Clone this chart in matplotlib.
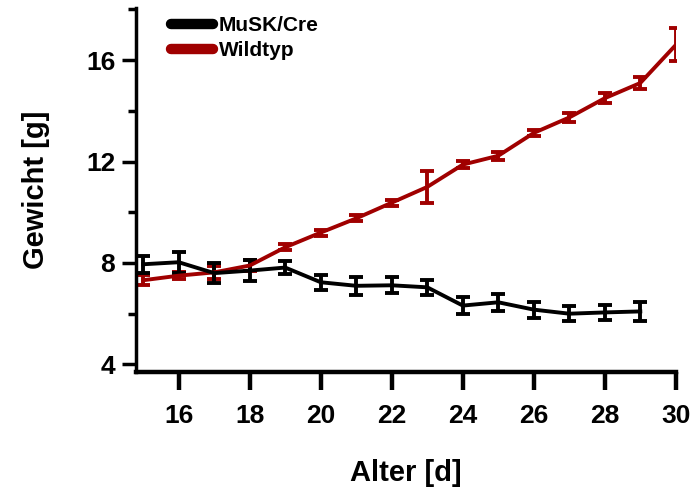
import matplotlib
matplotlib.use("Agg")
import matplotlib.pyplot as plt
from matplotlib.lines import Line2D
from matplotlib.ticker import MultipleLocator

plt.rcParams['font.family'] = ['Liberation Sans', 'DejaVu Sans']
plt.rcParams['font.weight'] = 'bold'

# age in days
age_cre = [15, 16, 17, 18, 19, 20, 21, 22, 23, 24, 25, 26, 27, 28, 29]
weight_cre = [7.95, 8.03, 7.6, 7.7, 7.82, 7.24, 7.1, 7.12, 7.04, 6.32, 6.45, 6.16, 6.0, 6.05, 6.09]
err_cre = [0.33, 0.42, 0.4, 0.42, 0.27, 0.3, 0.36, 0.32, 0.3, 0.33, 0.34, 0.32, 0.3, 0.31, 0.38]

age_wt = [15, 16, 17, 18, 19, 20, 21, 22, 23, 24, 25, 26, 27, 28, 29, 30]
weight_wt = [7.32, 7.5, 7.63, 7.9, 8.62, 9.2, 9.76, 10.38, 11.0, 11.88, 12.23, 13.13, 13.74, 14.5, 15.1, 16.6]
err_wt = [0.2, 0.15, 0.25, 0.2, 0.12, 0.12, 0.12, 0.12, 0.62, 0.15, 0.15, 0.13, 0.18, 0.2, 0.22, 0.65]

red = '#a00000'

fig = plt.figure(figsize=(6.91, 4.97), dpi=100)
ax = fig.add_axes([0.197, 0.2515, 0.781, 0.732])

ax.errorbar(age_wt, weight_wt, yerr=err_wt, color=red, lw=2.8,
            elinewidth=2.8, capsize=4.8, capthick=2.8)
ax.errorbar(age_cre, weight_cre, yerr=err_cre, color='black', lw=2.8,
            elinewidth=2.8, capsize=4.8, capthick=2.8)

ax.set_xlim(14.8, 30)
ax.set_ylim(3.7, 18.05)
ax.set_xticks(range(16, 31, 2))
ax.set_yticks([4, 8, 12, 16])
ax.yaxis.set_minor_locator(MultipleLocator(2))
ax.spines['top'].set_visible(False)
ax.spines['right'].set_visible(False)
ax.spines['left'].set_linewidth(2.5)
ax.spines['bottom'].set_linewidth(3.2)
ax.tick_params(axis='x', which='major', length=13, width=3.2, pad=10, labelsize=19)
ax.tick_params(axis='y', which='major', length=10, width=2.5, pad=5, labelsize=19)
ax.tick_params(axis='y', which='minor', length=6, width=2.5)
for lab in ax.get_xticklabels() + ax.get_yticklabels():
    lab.set_fontweight('bold')

ax.set_xlabel('Alter [d]', fontsize=21, fontweight='bold', labelpad=22)
ax.set_ylabel('Gewicht [g]', fontsize=21, fontweight='bold', labelpad=26)

handles = [Line2D([], [], color='black', lw=7.5, solid_capstyle='round'),
           Line2D([], [], color=red, lw=7.5, solid_capstyle='round')]
ax.legend(handles, ['MuSK/Cre', 'Wildtyp'], loc='upper left',
          bbox_to_anchor=(0.03, 1.03), frameon=False, handlelength=2.0,
          handletextpad=0.3, labelspacing=0.3,
          prop={'weight': 'bold', 'size': 15})

fig.savefig('out.png', dpi=100)
